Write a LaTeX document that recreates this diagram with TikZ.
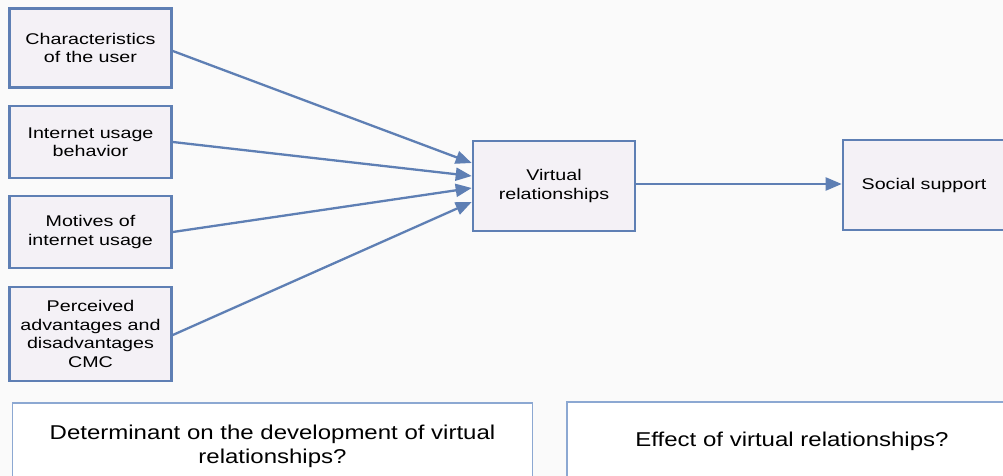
\documentclass[tikz,border=0pt]{standalone}
\usepackage{fontspec}
\setmainfont{Liberation Sans}
\newfontfamily\boxfont[FakeStretch=1.27]{Liberation Sans}
\newfontfamily\qfont[FakeStretch=1.2]{Liberation Sans}
\usetikzlibrary{arrows.meta}
\definecolor{boxblue}{RGB}{94,127,180}
\definecolor{boxfill}{RGB}{244,241,246}
\definecolor{qblue}{RGB}{140,168,210}
\definecolor{bg}{RGB}{250,250,250}
\tikzset{
  factor/.style={draw=boxblue, line width=2.6pt, fill=boxfill, align=center,
    inner sep=0pt, minimum width=162pt, font=\boxfont\fontsize{15.5}{18.5}\selectfont},
  question/.style={draw=qblue, line width=1.3pt, fill=white, align=center,
    inner sep=0pt, font=\qfont\fontsize{20}{24}\selectfont},
  link/.style={draw=boxblue, line width=2.3pt, -{Triangle[length=16pt,width=13pt]}}
}
\begin{document}
\begin{tikzpicture}[x=1pt,y=-1pt]
\clip (0,0) rectangle (1003,476);
\fill[bg] (0,0) rectangle (1003,476);
\node[factor, minimum height=79pt] (b1) at (90.5,48) {Characteristics\\of the user};
\node[factor, minimum height=72pt] (b2) at (90.5,142) {Internet usage\\behavior};
\node[factor, minimum height=72pt] (b3) at (90.5,232) {Motives of\\internet usage};
\node[factor, minimum height=94pt] (b4) at (90.5,334) {Perceived\\advantages and\\disadvantages\\CMC};
\node[factor, minimum height=90pt] (v) at (554,186) {Virtual\\relationships};
\node[factor, minimum height=90pt] (s) at (924,185) {Social support};
\node[question, minimum width=520pt, minimum height=86pt] (q1) at (272.5,446) {Determinant on the development of virtual\\relationships?};
\node[question, minimum width=450pt, minimum height=78pt] (q2) at (792,441) {Effect of virtual relationships?};
\draw[link] ([yshift=-3pt]b1.east) -- ([yshift=23pt]v.west);
\draw[link] (b2.east) -- ([yshift=10pt]v.west);
\draw[link] (b3.east) -- ([yshift=-2pt]v.west);
\draw[link] ([yshift=-1pt]b4.east) -- ([yshift=-16pt]v.west);
\draw[link] ([yshift=2pt]v.east) -- ([yshift=2pt]v.east -| s.west);
\end{tikzpicture}
\end{document}
